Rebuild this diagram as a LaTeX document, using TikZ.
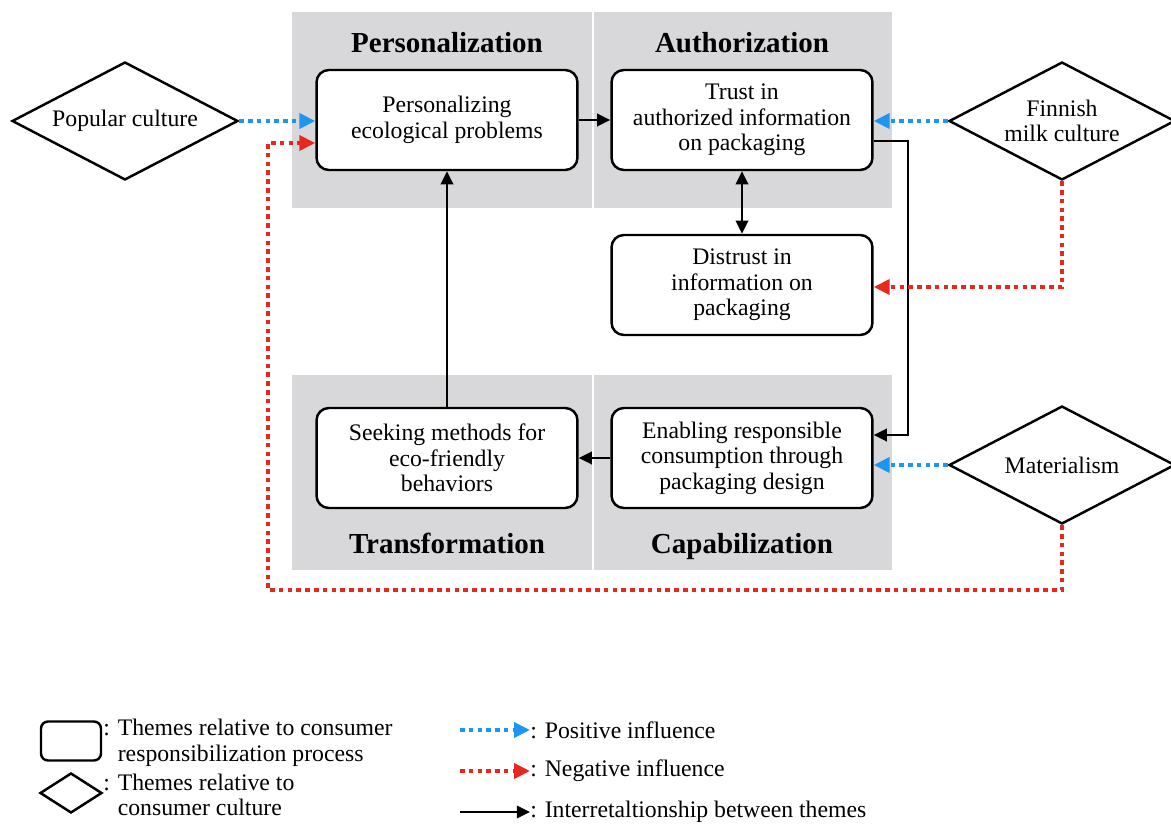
\documentclass[tikz,border=0pt]{standalone}
\usepackage{fontspec}
\setmainfont{Liberation Serif}
\usetikzlibrary{shapes.geometric, arrows.meta, positioning, calc}
\definecolor{panelgray}{RGB}{216,216,218}
\definecolor{posblue}{RGB}{28,150,240}
\definecolor{negred}{RGB}{232,40,30}

\begin{document}
\begin{tikzpicture}[
    x=0.02cm, y=-0.02cm,
    theme/.style={draw, line width=1.4pt, fill=white, rounded corners=7pt, minimum width=5.22cm, minimum height=2cm, align=center, font=\rmfamily\fontsize{13.5}{14.6}\selectfont},
    culture/.style={diamond, shape aspect=1.9, draw, line width=1.4pt, fill=white, minimum width=4.52cm, minimum height=2.36cm, inner sep=0pt, align=center, font=\rmfamily\fontsize{13.5}{14.6}\selectfont},
    panel/.style={fill=panelgray},
    title/.style={anchor=base, font=\rmfamily\fontsize{16.5}{18}\selectfont\bfseries},
    legtext/.style={anchor=west, align=left, inner sep=0pt, font=\rmfamily\fontsize{13.5}{14.6}\selectfont},
    link/.style={-{Triangle[length=7.5pt,width=7pt]}, line width=1.6pt},
    posinf/.style={-{Triangle[length=0.32cm,width=0.3cm]}, posblue, line width=2.2pt, dash pattern=on 2.6pt off 2.4pt},
    neginf/.style={-{Triangle[length=0.32cm,width=0.3cm]}, negred, line width=2.2pt, dash pattern=on 2.6pt off 2.4pt}
]
    \useasboundingbox (0,0) rectangle (1171,827);

    % Panels
    \fill[panel] (292,12) rectangle (592,208);
    \fill[panel] (594,12) rectangle (892,208);
    \fill[panel] (292,375) rectangle (592,570);
    \fill[panel] (594,375) rectangle (892,570);
    \node[title] (tpers) at (447,53) {Personalization};
    \node[title] (tauth) at (742,53) {Authorization};
    \node[title] (ttrans) at (447,554) {Transformation};
    \node[title] (tcap) at (742,554) {Capabilization};

    % Themes
    \node[theme] (pers) at (447,120) {Personalizing\\ecological problems};
    \node[theme] (trust) at (742,120) {Trust in\\authorized information\\on packaging};
    \node[theme] (distrust) at (742,285) {Distrust in\\information on\\packaging};
    \node[theme] (enabling) at (742,458) {Enabling responsible\\consumption through\\packaging design};
    \node[theme] (seeking) at (447,458) {Seeking methods for\\eco-friendly\\behaviors};

    % Consumer culture
    \node[culture] (popular) at (125,121) {Popular culture};
    \node[culture] (finnish) at (1062,121) {Finnish\\milk culture};
    \node[culture] (material) at (1062,465) {Materialism};

    % Interrelationships
    \coordinate (trustturn) at (908,300);
    \draw[link] (pers) -- (trust);
    \draw[link, {Triangle[length=7.5pt,width=7pt]}-{Triangle[length=7.5pt,width=7pt]}] (trust) -- (distrust);
    \draw[link] ([yshift=-0.42cm]trust.east) -| (trustturn) |- ([yshift=0.46cm]enabling.east);
    \draw[link] (enabling) -- (seeking);
    \draw[link] (seeking) -- (pers);

    % Influences
    \coordinate (redturn) at (268,590);
    \draw[posinf] (popular.east) -- (popular.east -| pers.west);
    \draw[posinf] (finnish.west) -- (finnish.west -| trust.east);
    \draw[posinf] (material.west) -- (material.west -| enabling.east);
    \draw[neginf] (finnish.south) |- ([yshift=-0.04cm]distrust.east);
    \draw[neginf] (material.south) |- (redturn) |- ([yshift=-0.46cm]pers.west);

    % Legend
    \node[draw, line width=1.4pt, rounded corners=4pt, minimum width=1.2cm, minimum height=0.78cm] (legbox) at (71,741) {};
    \node[diamond, shape aspect=1.5, draw, line width=1.4pt, minimum width=1.24cm, minimum height=0.8cm, inner sep=0pt] (legdia) at (71,793) {};
    \node[legtext] (legproc) at (103,743) {: Themes relative to consumer\\\hphantom{: }responsibilization process};
    \node[legtext] (legcult) at (103,795) {: Themes relative to\\\hphantom{: }consumer culture};
    \node[legtext] (legpos) at (530,730) {: Positive influence};
    \node[legtext] (legneg) at (530,771) {: Negative influence};
    \node[legtext] (leglink) at (530,812) {: Interretaltionship between themes};
    \coordinate (posstart) at (460,730);
    \coordinate (negstart) at (460,771);
    \coordinate (linkstart) at (460,812);
    \draw[posinf] (posstart) -- (legpos.west);
    \draw[neginf] (negstart) -- (legneg.west);
    \draw[link] (linkstart) -- (leglink.west);
\end{tikzpicture}
\end{document}
